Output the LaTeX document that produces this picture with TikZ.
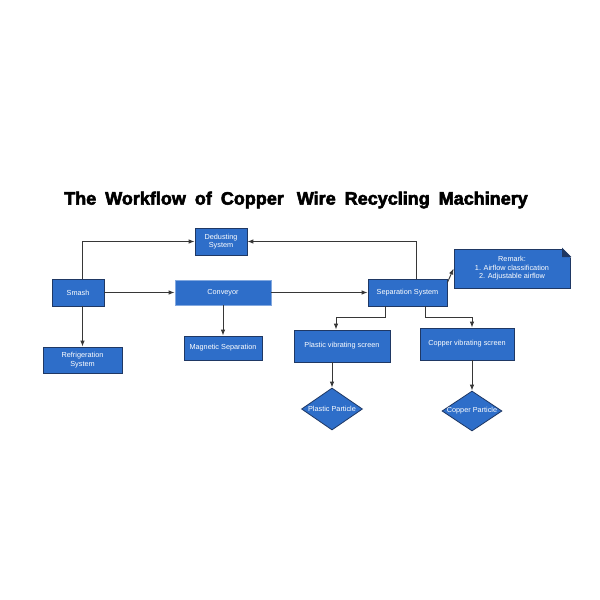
\documentclass[tikz,border=0pt]{standalone}
\usepackage{fontspec}
\setmainfont{Liberation Sans}
\newfontfamily\titlefont[FakeBold=3]{Liberation Sans}
\usetikzlibrary{shapes.geometric,arrows.meta}
\definecolor{boxblue}{RGB}{46,110,201}
\definecolor{boxline}{RGB}{31,56,100}
\definecolor{flowline}{RGB}{55,55,55}
\tikzset{
  procbox/.style={draw=boxline, fill=boxblue, line width=0.8pt, text=white,
    inner sep=0pt, align=center, font=\fontsize{7.3}{8.6}\selectfont},
  result/.style={procbox, diamond, inner xsep=-12pt},
  flow/.style={draw=flowline, line width=0.9pt, -{Latex[length=6pt,width=4.5pt]}},
}
\begin{document}
\begin{tikzpicture}[x=1pt,y=-1pt]
\fill[white] (0,0) rectangle (600,600);
\useasboundingbox (0,0) rectangle (600,600);
% title
\node (title) at (296,200) {\titlefont\bfseries\fontsize{18}{21}\selectfont
  \spaceskip=9pt The Workflow of Copper\hspace{4pt} Wire Recycling Machinery};
% process boxes
\node[procbox, minimum width=52pt, minimum height=27pt] (smash) at (78,292.5) {Smash};
\node[procbox, minimum width=52pt, minimum height=27pt] (dedust) at (221,241.5) {Dedusting\\System};
\node[procbox, draw=boxblue!60!white, minimum width=96pt, minimum height=25pt] (conveyor) at (223,292.5) {Conveyor};
\node[procbox, minimum width=78pt, minimum height=24pt] (magnetic) at (223,348) {Magnetic Separation};
\node[procbox, minimum width=79pt, minimum height=26pt] (refrig) at (82.5,360) {Refrigeration\\System};
\node[procbox, minimum width=79pt, minimum height=27pt] (separation) at (407.5,292.5) {Separation System};
\node[procbox, minimum width=96pt, minimum height=32pt] (plastic) at (342,346) {Plastic vibrating screen};
\node[procbox, minimum width=94pt, minimum height=32pt] (copper) at (467,344) {Copper vibrating screen};
% results
\node[result, minimum width=61pt, minimum height=42pt] (pparticle) at (332,409) {Plastic Particle};
\node[result, minimum width=60pt, minimum height=40pt] (cparticle) at (472,411) {Copper Particle};
% remark note with folded corner
\node[procbox, minimum width=116pt, minimum height=39pt] (remark) at (512,268.5)
  {Remark:\\1. Airflow classification\\2. Adjustable airflow};
\fill[white, draw=white, line width=1pt] ([xshift=-8pt]remark.north east) -- ([shift={(1pt,1pt)}]remark.north east) -- ([yshift=-8pt]remark.north east) -- cycle;
\filldraw[boxline, line width=0.8pt] ([xshift=-8pt]remark.north east) -- ([yshift=-8pt]remark.north east) -- ([shift={(-8pt,-8pt)}]remark.north east) -- cycle;
% connectors
\draw[flow] (refrig.north |- smash.north) |- (dedust.west);
\draw[flow] (refrig.north |- smash.south) -- (refrig.north);
\draw[flow] (smash.east) -- (conveyor.west);
\draw[flow] (conveyor.south) -- (magnetic.north);
\draw[flow] (conveyor.east) -- (separation.west);
\draw[flow] ([xshift=8.5pt]separation.north) |- (dedust.east);
\draw[flow] ([yshift=-4pt]separation.north east) -- (remark.west);
\draw[flow] ([xshift=-22.5pt]separation.south) -- ++(0,11) -| ([xshift=-6pt]plastic.north);
\draw[flow] ([xshift=17.5pt]separation.south) -- ++(0,11) -| (cparticle.north |- copper.north);
\draw[flow] (pparticle.north |- plastic.south) -- (pparticle.north);
\draw[flow] (cparticle.north |- copper.south) -- (cparticle.north);
\end{tikzpicture}
\end{document}
